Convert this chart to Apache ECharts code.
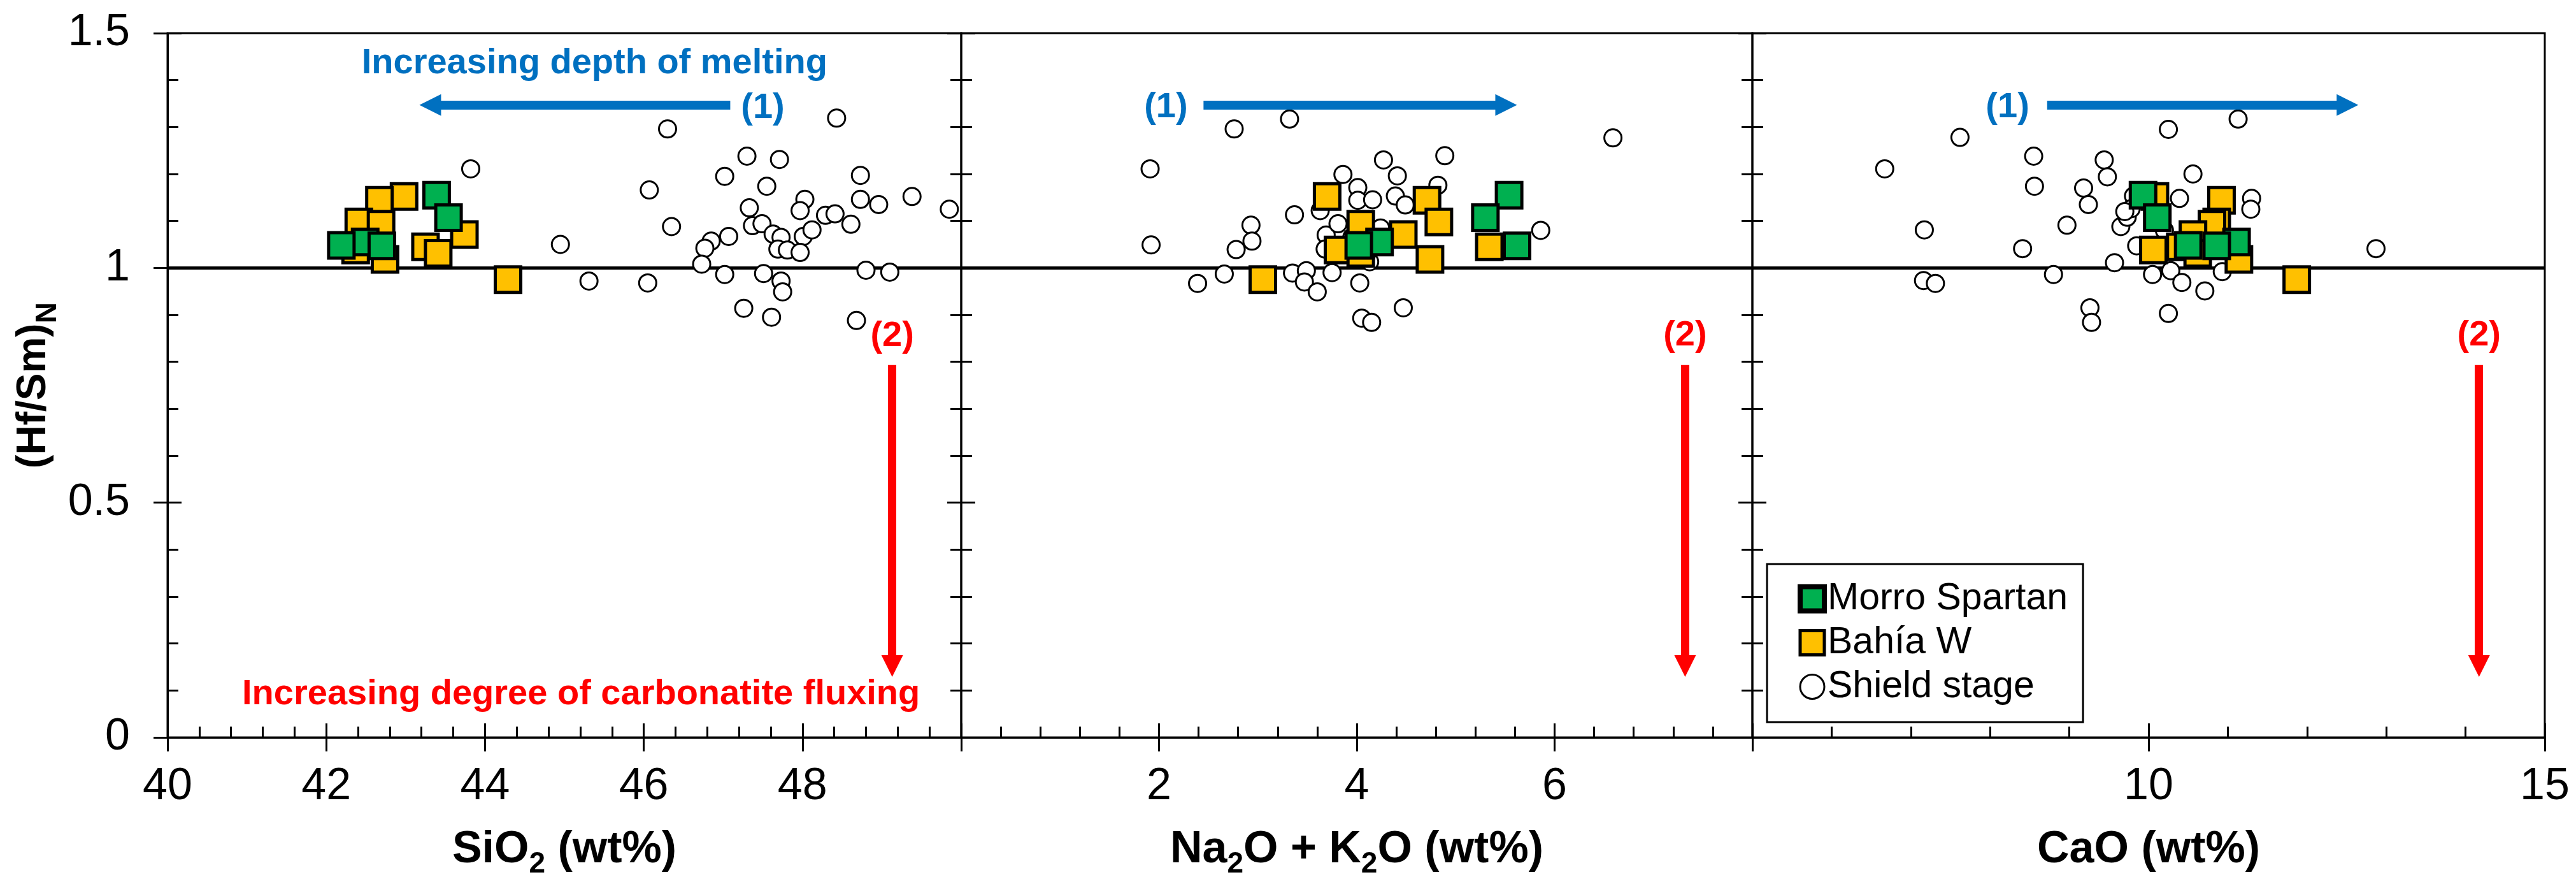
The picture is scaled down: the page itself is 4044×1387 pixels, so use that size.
<!DOCTYPE html>
<html>
<head>
<meta charset="utf-8">
<script src="https://cdn.jsdelivr.net/npm/echarts@6/dist/echarts.min.js"></script>
<style>
  body { margin: 0; background: #fff; }
  #chart { width: 4044px; height: 1387px; }
</style>
</head>
<body>
<div id="chart"></div>
<script>
// Morro Spartan samples: (Hf/Sm)N and the three oxides
var morroHfSm = [1.155, 1.107, 1.055, 1.048, 1.047];
var morroSiO2 = [43.39, 43.54, 42.49, 42.19, 42.70];
var morroAlkali = [5.54, 5.30, 4.23, 4.02, 5.62];
var morroCaO = [9.93, 10.11, 11.11, 10.50, 10.86];

// Bahia W samples
var bahiaHfSm = [1.152, 1.144, 1.098, 1.093, 1.071, 1.045, 1.038, 1.031, 1.018, 0.975];
var bahiaSiO2 = [42.98, 42.67, 42.41, 42.69, 43.74, 43.25, 42.37, 43.41, 42.74, 44.29];
var bahiaAlkali = [3.70, 4.71, 4.83, 4.04, 4.47, 5.34, 3.81, 4.04, 4.74, 3.05];
var bahiaCaO = [10.08, 10.92, 10.86, 10.80, 10.56, 10.40, 10.06, 10.62, 11.14, 11.87];

// Shield stage, [oxide, (Hf/Sm)N] per panel
var shieldSiO2 = [
  [48.43, 1.319], [46.30, 1.296], [47.30, 1.238], [47.71, 1.231], [47.02, 1.195], [47.55, 1.174],
  [48.73, 1.197], [48.73, 1.146], [48.96, 1.135], [49.38, 1.152], [49.85, 1.125], [48.03, 1.146],
  [47.97, 1.122], [48.29, 1.112], [48.41, 1.115], [48.61, 1.093], [47.33, 1.128], [47.37, 1.090],
  [47.49, 1.094], [47.63, 1.072], [47.73, 1.065], [48.01, 1.067], [48.12, 1.081], [47.69, 1.040],
  [47.81, 1.038], [47.97, 1.033], [47.07, 1.067], [46.85, 1.057], [46.77, 1.042], [46.73, 1.008],
  [47.02, 0.986], [47.51, 0.988], [47.73, 0.972], [47.75, 0.949], [47.26, 0.914], [47.61, 0.895],
  [48.80, 0.995], [49.10, 0.991], [48.68, 0.888], [46.35, 1.088], [43.82, 1.211], [44.95, 1.050],
  [45.31, 0.972], [46.05, 0.968], [46.07, 1.166]
];
var shieldAlkali = [
  [2.76, 1.296], [3.32, 1.317], [1.91, 1.211], [1.92, 1.049], [2.39, 0.967], [2.66, 0.987],
  [2.78, 1.039], [2.93, 1.091], [2.94, 1.057], [3.37, 1.113], [3.35, 0.989], [3.49, 0.994],
  [3.47, 0.970], [3.60, 0.949], [3.75, 0.990], [3.86, 1.199], [4.01, 1.171], [4.01, 1.144],
  [4.16, 1.145], [4.27, 1.230], [4.41, 1.196], [4.39, 1.153], [4.49, 1.134], [4.89, 1.239],
  [4.82, 1.176], [3.63, 1.122], [3.69, 1.070], [3.68, 1.040], [3.81, 1.094], [4.03, 0.968],
  [4.05, 0.893], [4.15, 0.884], [4.47, 0.915], [4.13, 1.013], [4.24, 1.085], [5.86, 1.080],
  [6.59, 1.277], [3.95, 1.065], [4.10, 1.030]
];
var shieldCaO = [
  [6.67, 1.211], [7.62, 1.278], [7.17, 1.081], [7.16, 0.973], [7.31, 0.967], [8.55, 1.238],
  [8.56, 1.174], [8.41, 1.041], [8.80, 0.986], [8.97, 1.091], [9.18, 1.170], [9.24, 1.135],
  [9.44, 1.230], [9.48, 1.194], [9.26, 0.915], [9.28, 0.884], [9.57, 1.011], [9.65, 1.088],
  [9.73, 1.108], [9.85, 1.047], [10.05, 0.986], [9.81, 1.153], [9.78, 1.126], [10.25, 1.295],
  [11.13, 1.317], [10.56, 1.200], [10.39, 1.148], [11.30, 1.148], [11.29, 1.125], [12.87, 1.041],
  [10.28, 0.994], [10.42, 0.969], [10.71, 0.951], [10.93, 0.992], [10.25, 0.903], [10.20, 1.080],
  [9.70, 1.120]
];

var legendNames = ['Morro Spartan', 'Bahía W', 'Shield stage'];

var FONT = 'Liberation Sans';
var BLUE = '#0070C0', RED = '#FF0000', GREEN = '#00B050', YELLOW = '#FFC000';
var tickLine = { color: '#000', width: 3 };

function pairs(xs, ys) {
  return xs.map(function (x, i) { return [x, ys[i]]; });
}

var nameRich = function (big, small) {
  return {
    m: { fontSize: big, fontWeight: 'bold', fontFamily: FONT, color: '#000', lineHeight: 90 },
    s: { fontSize: small, fontWeight: 'bold', fontFamily: FONT, color: '#000', lineHeight: small, verticalAlign: 'bottom' }
  };
};

function xPair(g, min, max, interval, name, hidden) {
  return [
    {
      gridIndex: g, type: 'value', position: 'bottom', min: min, max: max, interval: interval,
      axisLine: { show: true, onZero: false, lineStyle: tickLine },
      axisTick: { show: true, inside: false, length: 22, lineStyle: tickLine },
      splitLine: { show: false },
      axisLabel: {
        show: true, margin: 43, fontSize: 70, color: '#000', fontFamily: FONT,
        formatter: function (v) { return hidden.indexOf(v) >= 0 ? '' : String(v); }
      },
      name: name, nameLocation: 'middle', nameGap: 132,
      nameTextStyle: { rich: nameRich(70, 46) }
    },
    {
      gridIndex: g, type: 'value', position: 'bottom', min: min, max: max, interval: interval,
      axisLine: { show: false, onZero: false },
      axisTick: { show: true, inside: true, length: 22, lineStyle: tickLine },
      minorTick: { show: true, splitNumber: 5, length: 17, lineStyle: tickLine },
      splitLine: { show: false },
      axisLabel: { show: false }
    }
  ];
}

function yInner(g, pos) {
  return {
    gridIndex: g, type: 'value', position: pos, min: 0, max: 1.5, interval: 0.5,
    axisLine: { show: false, onZero: false },
    axisTick: { show: true, inside: true, length: 22, lineStyle: tickLine },
    minorTick: { show: true, splitNumber: 5, length: 17, lineStyle: tickLine },
    splitLine: { show: false },
    axisLabel: { show: false }
  };
}

var xAxes = [].concat(
  xPair(0, 40, 50, 2, '{m|SiO}{s|2}{m| (wt%)}', [50]),
  xPair(1, 0, 8, 2, '{m|Na}{s|2}{m|O + K}{s|2}{m|O (wt%)}', [0, 8]),
  xPair(2, 5, 15, 5, '{m|CaO (wt%)}', [5])
);

var yAxes = [
  {
    gridIndex: 0, type: 'value', position: 'left', min: 0, max: 1.5, interval: 0.5,
    axisLine: { show: true, onZero: false, lineStyle: tickLine },
    axisTick: { show: true, inside: false, length: 22, lineStyle: tickLine },
    splitLine: { show: false },
    axisLabel: { show: true, margin: 59, fontSize: 70, color: '#000', fontFamily: FONT },
    name: '{m|(Hf/Sm)}{s|N}', nameLocation: 'middle', nameRotate: 90, nameGap: 165,
    nameTextStyle: { rich: nameRich(64, 46) }
  },
  yInner(0, 'left'),
  yInner(0, 'right'),
  yInner(1, 'left'),
  yInner(1, 'right'),
  yInner(2, 'left')
];
var yMain = [0, 3, 5];

var arrows = [
  { g: 0, from: [47.09, 1.347], to: [43.31, 1.347], color: BLUE, w: 14 },
  { g: 1, from: [2.45, 1.347], to: [5.51, 1.347], color: BLUE, w: 14 },
  { g: 2, from: [8.72, 1.347], to: [12.51, 1.347], color: BLUE, w: 14 },
  { g: 0, from: [49.13, 0.793], to: [49.13, 0.152], color: RED, w: 13 },
  { g: 1, from: [7.32, 0.793], to: [7.32, 0.152], color: RED, w: 13 },
  { g: 2, from: [14.17, 0.793], to: [14.17, 0.152], color: RED, w: 13 }
];

var notes = [
  { g: 0, at: [45.38, 1.435], text: 'Increasing depth of melting', color: BLUE },
  { g: 0, at: [47.50, 1.340], text: '(1)', color: BLUE },
  { g: 1, at: [2.07, 1.342], text: '(1)', color: BLUE },
  { g: 2, at: [8.22, 1.342], text: '(1)', color: BLUE },
  { g: 0, at: [49.13, 0.855], text: '(2)', color: RED },
  { g: 1, at: [7.32, 0.856], text: '(2)', color: RED },
  { g: 2, at: [14.17, 0.856], text: '(2)', color: RED },
  { g: 0, at: [45.21, 0.091], text: 'Increasing degree of carbonatite fluxing', color: RED }
];

var panels = [
  { shield: shieldSiO2, bahia: pairs(bahiaSiO2, bahiaHfSm), morro: pairs(morroSiO2, morroHfSm) },
  { shield: shieldAlkali, bahia: pairs(bahiaAlkali, bahiaHfSm), morro: pairs(morroAlkali, morroHfSm) },
  { shield: shieldCaO, bahia: pairs(bahiaCaO, bahiaHfSm), morro: pairs(morroCaO, morroHfSm) }
];

var series = [];
panels.forEach(function (p, g) {
  var xi = 2 * g, yi = yMain[g];
  series.push({
    type: 'scatter', name: 'Shield stage', xAxisIndex: xi, yAxisIndex: yi,
    data: p.shield, symbol: 'circle', symbolSize: 27, z: 2,
    itemStyle: { color: '#fff', borderColor: '#000', borderWidth: 3, opacity: 1 },
    markLine: {
      silent: true, symbol: 'none', z: 1, animation: false,
      label: { show: false },
      lineStyle: { color: '#000', width: 5, type: 'solid' },
      data: [{ yAxis: 1 }]
    }
  });
  series.push({
    type: 'scatter', name: 'Bahía W', xAxisIndex: xi, yAxisIndex: yi,
    data: p.bahia, symbol: 'rect', symbolSize: 40, z: 3,
    itemStyle: { color: YELLOW, borderColor: '#000', borderWidth: 5, opacity: 1 }
  });
  series.push({
    type: 'scatter', name: 'Morro Spartan', xAxisIndex: xi, yAxisIndex: yi,
    data: p.morro, symbol: 'rect', symbolSize: 40, z: 4,
    itemStyle: { color: GREEN, borderColor: '#000', borderWidth: 5, opacity: 1 },
    markLine: {
      silent: true, animation: false, z: 6,
      symbol: ['none', 'triangle'], symbolSize: 34,
      label: { show: false },
      data: arrows.filter(function (a) { return a.g === g; }).map(function (a) {
        return [
          { coord: a.from, lineStyle: { color: a.color, width: a.w, type: 'solid' }, itemStyle: { color: a.color } },
          { coord: a.to }
        ];
      })
    }
  });
});

var option = {
  animation: false,
  backgroundColor: '#fff',
  textStyle: { fontFamily: FONT },
  grid: [
    { left: 263, top: 52, width: 1246, height: 1105, show: true, borderColor: '#000', borderWidth: 3, backgroundColor: 'transparent', outerBoundsMode: 'none' },
    { left: 1509, top: 52, width: 1242, height: 1105, show: true, borderColor: '#000', borderWidth: 3, backgroundColor: 'transparent', outerBoundsMode: 'none' },
    { left: 2751, top: 52, width: 1244, height: 1105, show: true, borderColor: '#000', borderWidth: 3, backgroundColor: 'transparent', outerBoundsMode: 'none' }
  ],
  legend: {
    show: true, orient: 'vertical', left: 2774, top: 885,
    padding: [25, 24, 26, 48], itemGap: 10, itemWidth: 38, itemHeight: 38,
    borderColor: '#000', borderWidth: 3, backgroundColor: '#fff',
    selectedMode: false,
    textStyle: { fontSize: 59, color: '#000', fontFamily: FONT },
    data: [
      { name: legendNames[0], itemStyle: { borderWidth: 8 } },
      { name: legendNames[1], itemStyle: { borderWidth: 5 } },
      { name: legendNames[2], itemStyle: { borderWidth: 3 } }
    ]
  },
  xAxis: xAxes,
  yAxis: yAxes,
  series: series
};

var chart = echarts.init(document.getElementById('chart'));
chart.setOption(option);

// annotation texts placed through the axes
chart.setOption({
  graphic: notes.map(function (n) {
    var pt = chart.convertToPixel({ xAxisIndex: 2 * n.g, yAxisIndex: yMain[n.g] }, n.at);
    return {
      type: 'text', x: pt[0], y: pt[1], z: 20, silent: true,
      style: {
        text: n.text, fill: n.color, font: 'bold 56px "Liberation Sans"',
        align: 'center', verticalAlign: 'middle'
      }
    };
  })
});
</script>
</body>
</html>
